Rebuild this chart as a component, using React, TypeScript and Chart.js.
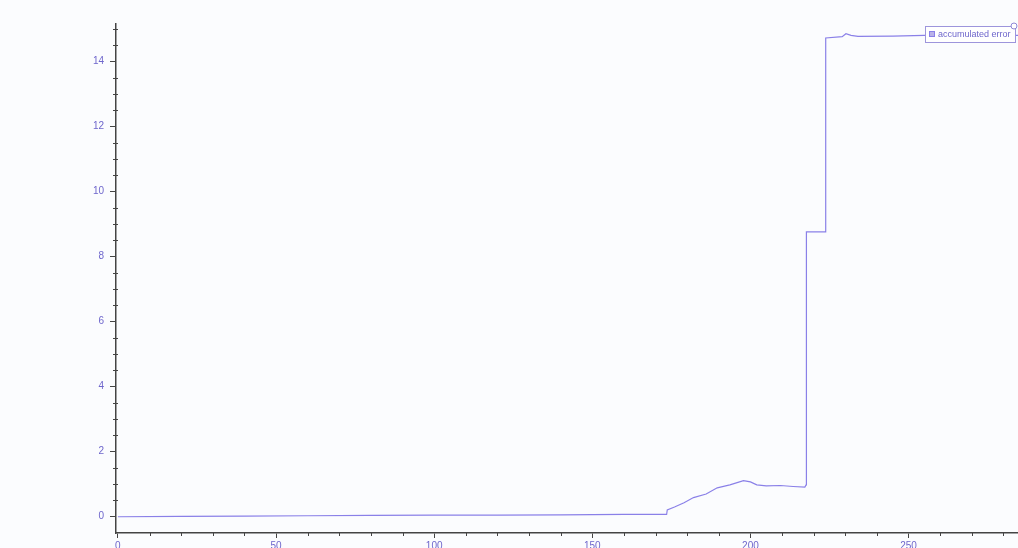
import React, { useEffect, useRef } from "react";
import { Chart, registerables } from "chart.js";

Chart.register(...registerables);

const seriesLabel = "accumulated error";
const xValues = [0, 20, 40, 60, 80, 100, 120, 140, 160, 173.5, 173.7, 176, 179, 182, 186, 189.5, 193.5, 197.8, 200, 202, 205, 209.5, 213.5, 217.2, 217.6, 217.7, 223.7, 223.8, 229, 230.2, 231.8, 234, 245, 255, 270, 285];
const yValues = [0, 0.01, 0.02, 0.03, 0.04, 0.05, 0.05, 0.06, 0.07, 0.07, 0.21, 0.3, 0.43, 0.59, 0.7, 0.89, 0.98, 1.11, 1.07, 0.98, 0.95, 0.96, 0.93, 0.91, 0.98, 8.76, 8.76, 14.72, 14.76, 14.85, 14.8, 14.77, 14.78, 14.8, 14.8, 14.8];
const xTickValues = [0, 50, 100, 150, 200, 250];
const yTickValues = [0, 2, 4, 6, 8, 10, 12, 14];

const LINE = "rgb(138,128,232)";
const LABEL = "#6e66cc";
const AXIS = "#444";

const minorTicks = {
  id: "minorTicks",
  afterDraw(chart: any) {
    const ctx = chart.ctx;
    const xs = chart.scales.x;
    const ys = chart.scales.y;
    ctx.save();
    ctx.strokeStyle = AXIS;
    ctx.lineWidth = 1;
    ctx.beginPath();
    for (let v = 0; v <= xs.max; v += 10) {
      if (v % 50 === 0) continue;
      const px = Math.round(xs.getPixelForValue(v)) + 0.5;
      ctx.moveTo(px, ys.bottom);
      ctx.lineTo(px, ys.bottom + 3);
    }
    for (let v = 0; v <= ys.max; v += 0.5) {
      if (v % 2 === 0) continue;
      const py = Math.round(ys.getPixelForValue(v)) + 0.5;
      ctx.moveTo(xs.left - 3, py);
      ctx.lineTo(xs.left + 2, py);
    }
    ctx.stroke();
    ctx.restore();
  },
};

const boxLegend = {
  id: "boxLegend",
  afterDraw(chart: any) {
    const ctx = chart.ctx;
    const x0 = 925, y0 = 26, w = 90, h = 16;
    ctx.save();
    ctx.fillStyle = "#ffffff";
    ctx.fillRect(x0, y0, w, h);
    ctx.strokeStyle = "#9d95dc";
    ctx.lineWidth = 1;
    ctx.strokeRect(x0 + 0.5, y0 + 0.5, w, h);
    ctx.fillStyle = "#b9b2e8";
    ctx.fillRect(x0 + 4, y0 + 5, 6, 6);
    ctx.strokeStyle = LINE;
    ctx.strokeRect(x0 + 4.5, y0 + 5.5, 5, 5);
    ctx.fillStyle = LABEL;
    ctx.font = "9px 'Liberation Sans', Arial, sans-serif";
    ctx.textBaseline = "middle";
    ctx.fillText(seriesLabel, x0 + 13, y0 + h / 2 + 1);
    ctx.beginPath();
    ctx.arc(x0 + w - 1, y0, 3, 0, Math.PI * 2);
    ctx.fillStyle = "#fff";
    ctx.fill();
    ctx.strokeStyle = "#8f87d6";
    ctx.stroke();
    ctx.restore();
  },
};

const bgPlugin = {
  id: "bg",
  beforeDraw(chart: any) {
    const ctx = chart.ctx;
    ctx.save();
    ctx.fillStyle = "#fbfcfe";
    ctx.fillRect(0, 0, chart.width, chart.height);
    ctx.restore();
  },
};

export default function App() {
  const ref = useRef<HTMLCanvasElement | null>(null);
  useEffect(() => {
    if (!ref.current) return;
    const data = xValues.map((x, i) => ({ x, y: yValues[i] }));
    const chart = new Chart(ref.current, {
      type: "line",
      data: {
        datasets: [
          {
            label: seriesLabel,
            data,
            borderColor: LINE,
            borderWidth: 1.2,
            pointRadius: 0,
            tension: 0,
            fill: false,
          },
        ],
      },
      options: {
        animation: false,
        responsive: false,
        layout: { padding: { top: 24, right: 0, left: 0, bottom: 0 } },
        plugins: { legend: { display: false }, tooltip: { enabled: false } },
        scales: {
          x: {
            type: "linear",
            min: -0.6,
            max: 284.6,
            afterFit: (s: any) => { s.height = 15; },
            afterBuildTicks: (s: any) => { s.ticks = xTickValues.map((v) => ({ value: v })); },
            grid: { drawOnChartArea: false, drawTicks: true, tickLength: 5, tickColor: AXIS },
            border: { display: true, color: AXIS, width: 1.5 },
            ticks: { color: LABEL, font: { size: 10, family: "'Liberation Sans', Arial, sans-serif" }, padding: 2, maxRotation: 0, callback: (v: any) => String(v) },
          },
          y: {
            type: "linear",
            min: -0.5,
            max: 15.15,
            afterFit: (s: any) => { s.width = 116; },
            afterBuildTicks: (s: any) => { s.ticks = yTickValues.map((v) => ({ value: v })); },
            grid: { drawOnChartArea: false, drawTicks: true, tickLength: 6, tickColor: AXIS },
            border: { display: true, color: AXIS, width: 1.5 },
            ticks: { color: LABEL, font: { size: 10, family: "'Liberation Sans', Arial, sans-serif" }, padding: 6, callback: (v: any) => String(v) },
          },
        },
      },
      plugins: [bgPlugin, minorTicks, boxLegend],
    });
    return () => chart.destroy();
  }, []);
  return (
    <div style={{ position: "fixed", left: 0, top: 0, width: 1018, height: 548 }}>
      <canvas ref={ref} width={1018} height={548} />
    </div>
  );
}
